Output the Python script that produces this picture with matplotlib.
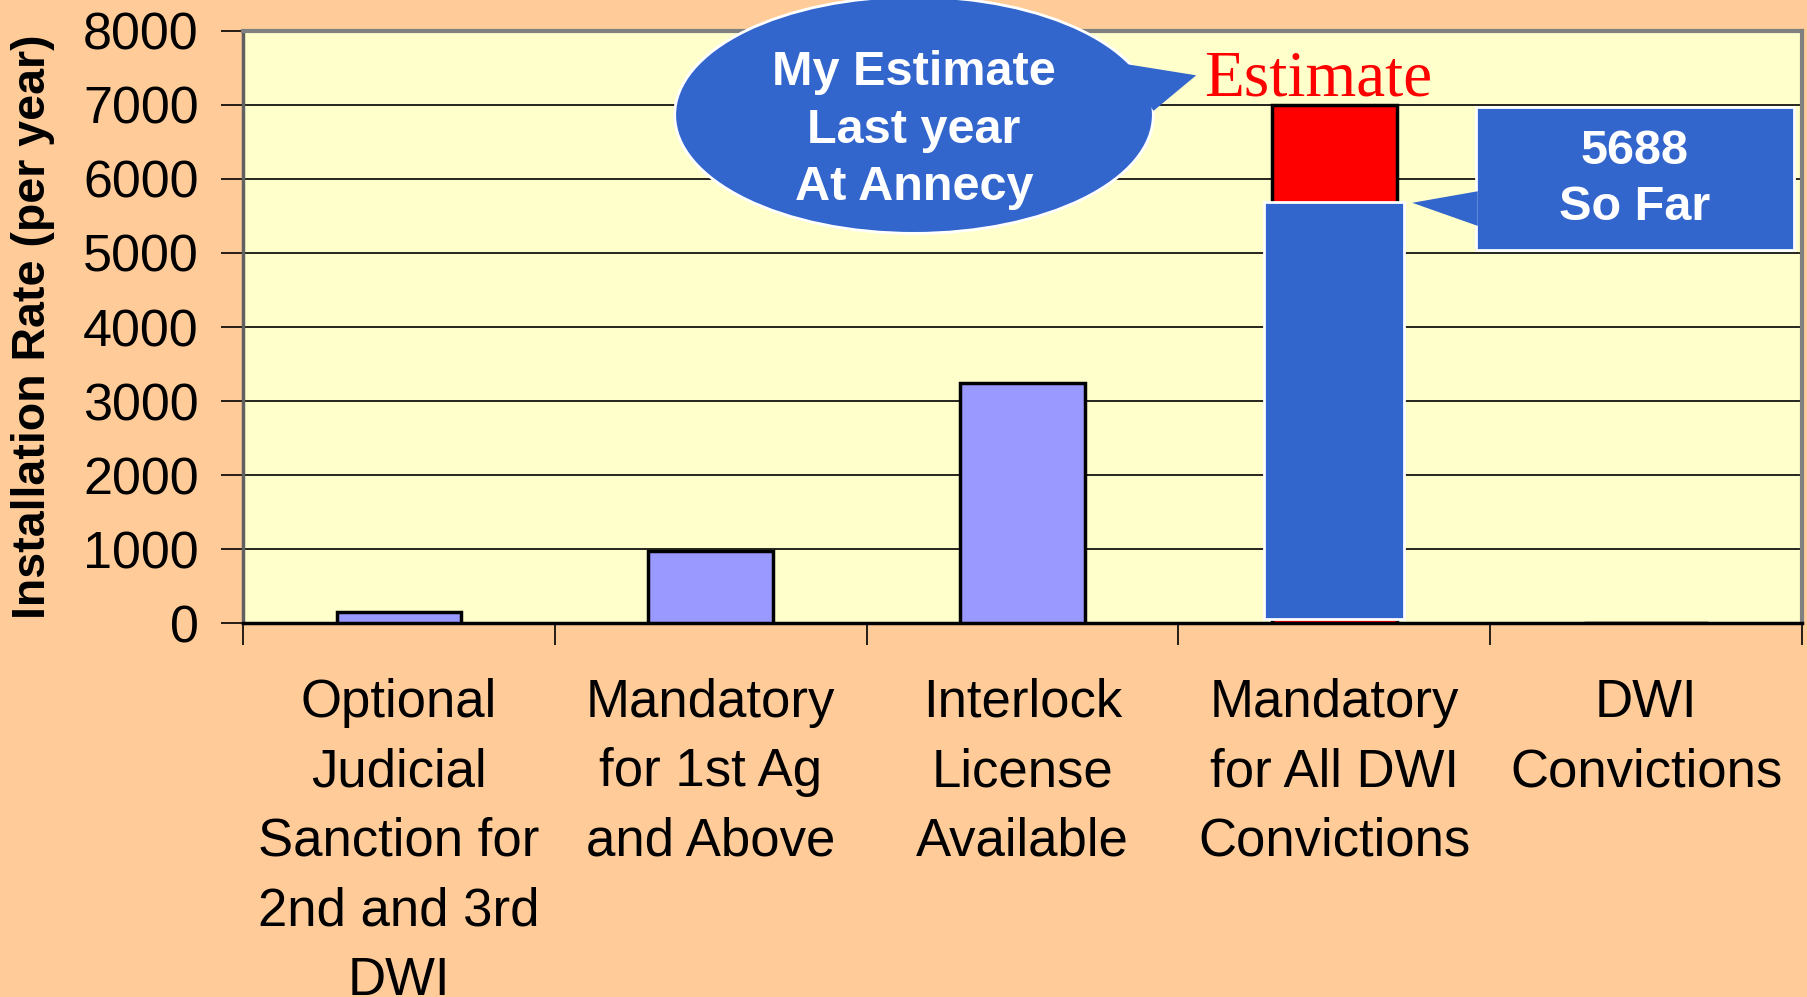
import matplotlib
matplotlib.use("Agg")
import matplotlib.pyplot as plt
from matplotlib.patches import Ellipse, Polygon, Rectangle

# data
categories = ["Optional\nJudicial\nSanction for\n2nd and 3rd\nDWI",
              "Mandatory\nfor 1st Ag\nand Above",
              "Interlock\nLicense\nAvailable",
              "Mandatory\nfor All DWI\nConvictions",
              "DWI\nConvictions"]
rates = [150, 970, 3250, 7000, 0]
so_far_idx = 3
so_far = 5688
yticks = [0, 1000, 2000, 3000, 4000, 5000, 6000, 7000, 8000]

BG = "#FFCC99"
PLOT_BG = "#FFFFCC"
BAR = "#9999FF"
BLUE = "#3366CC"
RED = "#FF0000"

plt.rcParams['font.family'] = ['Liberation Sans', 'DejaVu Sans']

fig = plt.figure(figsize=(18.08, 9.97), dpi=100, facecolor=BG)
ax = fig.add_axes([0.1344, 0.375, 0.8623, 0.594])
ax.set_facecolor(PLOT_BG)

x = list(range(len(categories)))
colors = [BAR] * len(categories)
colors[so_far_idx] = RED
ax.bar(x, rates, width=0.4, color=colors, edgecolor="black", linewidth=2.5, zorder=3)

# blue "so far" overlay on the estimate bar
ax.bar(so_far_idx, so_far - 60, bottom=60, width=0.45, color=BLUE,
       edgecolor="white", linewidth=2, zorder=4)

ax.set_xlim(-0.5, len(categories) - 0.5)
ax.set_ylim(0, 8000)
ax.set_yticks(yticks)
ax.set_yticklabels([str(v) for v in yticks], fontsize=37.5)
ax.yaxis.grid(True, color="black", linewidth=1.2, zorder=1)
ax.set_axisbelow(True)

ax.set_xticks([i - 0.5 for i in range(len(categories) + 1)])
ax.set_xticklabels([])
ax.tick_params(axis="x", length=16, width=1.2, direction="out")
ax.tick_params(axis="y", length=16, width=1.2, direction="out", pad=16)

for i, lab in enumerate(categories):
    ax.text(i, -0.092, lab, transform=ax.get_xaxis_transform(), ha="center", va="top",
            fontsize=38, linespacing=1.5)

ax.set_ylabel("Installation Rate (per year)", fontsize=33.5, fontweight="bold")
ax.yaxis.set_label_coords(-0.1206, 0.5)

for side in ["top", "right"]:
    ax.spines[side].set_color("#808080")
    ax.spines[side].set_linewidth(3)
ax.spines["left"].set_color("#606060")
ax.spines["left"].set_linewidth(2.5)
ax.spines["bottom"].set_color("black")
ax.spines["bottom"].set_linewidth(2.5)

# speech bubble (ellipse) callout
ell = Ellipse((1.652, 6864), 1.535, 3198, facecolor=BLUE, edgecolor="white",
              linewidth=2, clip_on=False, zorder=6)
ax.add_patch(ell)
tail = Polygon([(2.32, 7560), (2.557, 7400), (2.42, 6920)], closed=True,
               facecolor=BLUE, edgecolor="none", clip_on=False, zorder=6)
ax.add_patch(tail)
ax.text(1.652, 6660, "My Estimate\nLast year\nAt Annecy", ha="center", va="center",
        color="white", fontsize=35, fontweight="bold", linespacing=1.35,
        zorder=7, clip_on=False)

ax.text(2.584, 7130, "Estimate", color=RED, fontsize=47, family="Liberation Serif",
        ha="left", va="baseline", zorder=7)

# rectangle callout for so-far figure
box = Rectangle((3.453, 5039), 4.474 - 3.453, 6973 - 5039, facecolor=BLUE,
                edgecolor="white", linewidth=2, zorder=6, clip_on=False)
ax.add_patch(box)
tail2 = Polygon([(3.46, 5834), (3.25, 5678), (3.46, 5366)], closed=True,
                facecolor=BLUE, edgecolor="none", zorder=6, clip_on=False)
ax.add_patch(tail2)
ax.text((3.453 + 4.474) / 2, 5990, "5688\nSo Far", ha="center", va="center",
        color="white", fontsize=35, fontweight="bold", linespacing=1.3, zorder=7)

fig.savefig("out.png", dpi=100, facecolor=BG)
